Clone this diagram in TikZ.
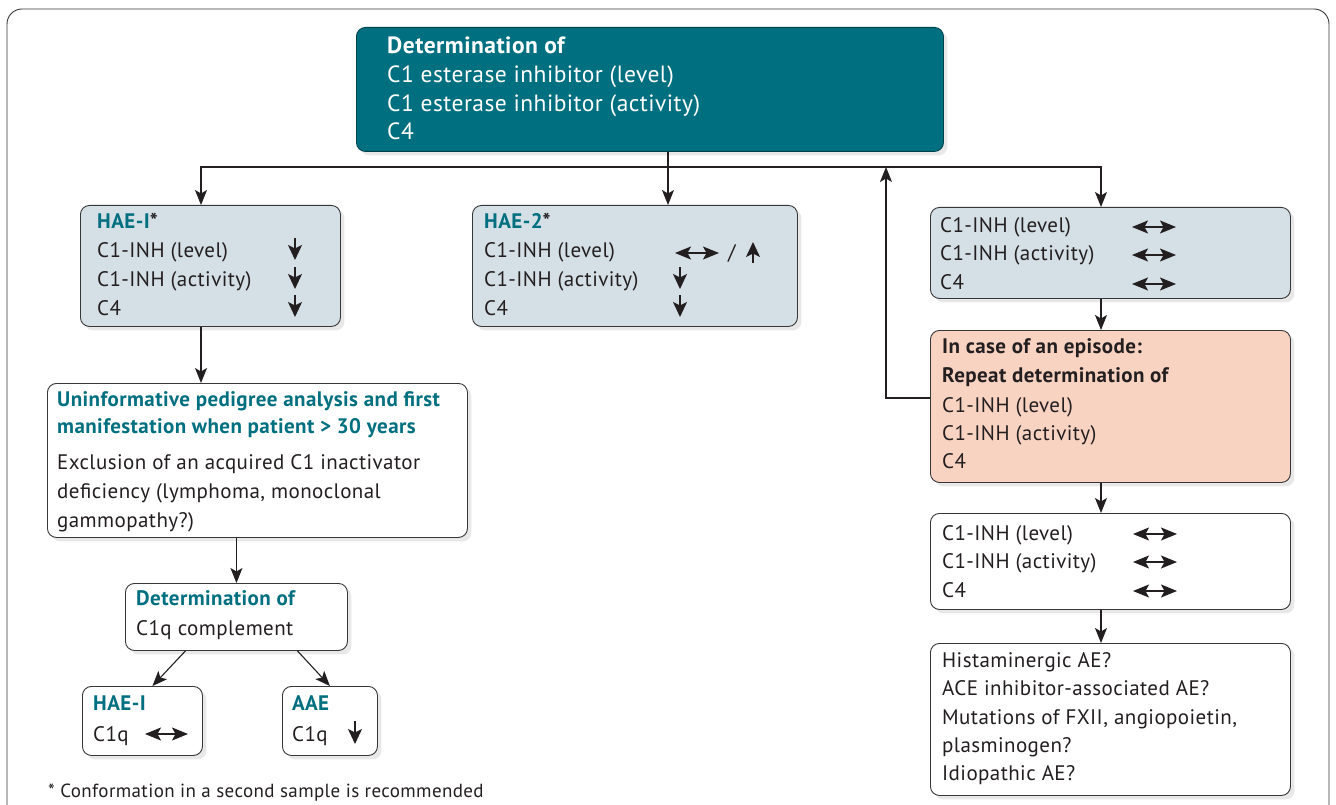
\documentclass[tikz,border=0pt]{standalone}
\usepackage{fontspec}
\setmainfont{PT Sans}[LetterSpace=2.0]
\usetikzlibrary{arrows.meta,shadows}
\definecolor{tealc}{RGB}{0,111,128}
\definecolor{bluegray}{RGB}{213,224,230}
\definecolor{pinkc}{RGB}{249,211,194}
\definecolor{linec}{RGB}{55,55,55}
\definecolor{txtc}{RGB}{35,31,32}
\begin{document}
\begin{tikzpicture}[x=1pt,y=-1pt,
  box/.style={draw=linec, line width=0.9pt, rounded corners=9pt, anchor=north west, inner sep=0pt,
    drop shadow={opacity=0.18, shadow xshift=4pt, shadow yshift=-4pt}},
  txt/.style={anchor=base west, inner sep=0pt, text=txtc, font=\fontsize{21}{25}\selectfont},
  hd/.style={txt, text=tealc, font=\fontsize{21}{25}\selectfont\bfseries},
  bhd/.style={txt, font=\fontsize{21}{25}\selectfont\bfseries},
  big/.style={font=\fontsize{23.5}{28}\selectfont},
  conn/.style={draw=txtc, line width=1.1pt, -{Stealth[length=15pt,width=12pt,inset=3.5pt]}},
  va/.style={draw=txtc, line width=1.4pt, -{Stealth[length=15pt,width=14pt,inset=3.5pt]}},
  dv/.style={draw=txtc, line width=1.4pt, {Stealth[length=16pt,width=13pt,inset=3.5pt]}-{Stealth[length=16pt,width=13pt,inset=3.5pt]}}
]
\useasboundingbox (0,0) rectangle (1336,805);
\begin{scope}
\clip (0,0) rectangle (1336,805);
\draw[draw=linec, line width=0.9pt, rounded corners=15pt] (7,840) -- (7,9) -- (1329,9) -- (1329,840);
\end{scope}

% boxes
\node[box, fill=tealc, draw=tealc!60!black, minimum width=587pt, minimum height=124pt] (top) at (356,27) {};
\node[box, fill=bluegray, minimum width=260pt, minimum height=121pt] (haeI) at (80,205) {};
\node[box, fill=bluegray, minimum width=325pt, minimum height=121pt] (hae2) at (472,205) {};
\node[box, fill=bluegray, minimum width=360pt, minimum height=91pt] (r1) at (930,207) {};
\node[box, fill=pinkc, minimum width=360pt, minimum height=152pt] (pink) at (930,330) {};
\node[box, fill=white, minimum width=360pt, minimum height=96pt] (w2) at (930,513) {};
\node[box, fill=white, minimum width=360pt, minimum height=152pt] (w3) at (930,643) {};
\node[box, fill=white, minimum width=420pt, minimum height=154pt] (unin) at (47,383) {};
\node[box, fill=white, minimum width=222pt, minimum height=67pt] (c1q) at (125,583) {};
\node[box, fill=white, minimum width=120pt, minimum height=69pt] (haes) at (82,686) {};
\node[box, fill=white, minimum width=95pt, minimum height=69pt] (aae) at (282,686) {};

% top text
\node[bhd, big, text=white, font=\fontsize{23.5}{28}\selectfont\bfseries] (t1) at (387,54) {Determination of};
\node[txt, big, text=white] (t2) at (387,83) {C1 esterase inhibitor (level)};
\node[txt, big, text=white] (t3) at (387,112) {C1 esterase inhibitor (activity)};
\node[txt, big, text=white] (t4) at (387,140) {C4};

% HAE-I
\node[hd] (a1) at (97,229) {HAE-I\textcolor{txtc}{*}};
\node[txt] (a2) at (97,258) {C1-INH (level)};
\node[txt] (a3) at (97,287) {C1-INH (activity)};
\node[txt] (a4) at (97,315) {C4};
\draw[va] (295,238) -- (295,260);
\draw[va] (295,267) -- (295,289);
\draw[va] (295,295) -- (295,317);

% HAE-2
\node[hd] (b1) at (484,229) {HAE-2\textcolor{txtc}{*}};
\node[txt] (b2) at (484,258) {C1-INH (level)};
\node[txt] (b3) at (484,287) {C1-INH (activity)};
\node[txt] (b4) at (484,315) {C4};
\draw[dv] (675,253) -- (719,253);
\node[txt] (bsl) at (728,259) {/};
\draw[va] (753,263) -- (753,242);
\draw[va] (680,267) -- (680,289);
\draw[va] (680,295) -- (680,317);

% right top
\node[txt] (c1) at (940,233) {C1-INH (level)};
\node[txt] (c2) at (940,261) {C1-INH (activity)};
\node[txt] (c3) at (940,289) {C4};
\draw[dv] (1132,227) -- (1176,227);
\draw[dv] (1132,255) -- (1176,255);
\draw[dv] (1132,284) -- (1176,284);

% pink
\node[bhd] (p1) at (942,353) {In case of an episode:};
\node[bhd] (p2) at (942,382) {Repeat determination of};
\node[txt] (p3) at (942,412) {C1-INH (level)};
\node[txt] (p4) at (942,440) {C1-INH (activity)};
\node[txt] (p5) at (942,468) {C4};

% white 2
\node[txt] (d1) at (942,540) {C1-INH (level)};
\node[txt] (d2) at (942,568) {C1-INH (activity)};
\node[txt] (d3) at (942,597) {C4};
\draw[dv] (1133,534) -- (1177,534);
\draw[dv] (1133,562) -- (1177,562);
\draw[dv] (1133,591) -- (1177,591);

% white 3
\node[txt] (e1) at (942,667) {Histaminergic AE?};
\node[txt] (e2) at (942,695) {ACE inhibitor-associated AE?};
\node[txt] (e3) at (942,724) {Mutations of FXII, angiopoietin,};
\node[txt] (e4) at (942,752) {plasminogen?};
\node[txt] (e5) at (942,780) {Idiopathic AE?};

% uninformative
\node[hd] (u1) at (57,406) {Uninformative pedigree analysis and first};
\node[hd] (u2) at (57,433) {manifestation when patient > 30 years};
\node[txt] (u3) at (57,469) {Exclusion of an acquired C1 inactivator};
\node[txt] (u4) at (57,498) {deficiency (lymphoma, monoclonal};
\node[txt] (u5) at (57,527) {gammopathy?)};

% C1q
\node[hd] (q1) at (136,605) {Determination of};
\node[txt] (q2) at (136,635) {C1q complement};

\node[hd] (h1) at (93,710) {HAE-I};
\node[txt] (h2) at (93,741) {C1q};
\draw[dv] (145,734) -- (188,734);

\node[hd] (g1) at (292,710) {AAE};
\node[txt] (g2) at (292,741) {C1q};
\draw[va] (355,721) -- (355,744);

\node[txt, font=\fontsize{19}{23}\selectfont] (fn) at (48,797) {* Conformation in a second sample is recommended};

% connectors
\coordinate (jx) at (668,167);
\coordinate (cl) at (201,167);
\coordinate (cr) at (1101,167);
\coordinate (up) at (886,167);
\coordinate (pj) at (886,398);
\draw[conn] (top.south -| jx) -- (hae2.north -| jx);
\draw[conn] (jx) -- (cl) -- (haeI.north -| cl);
\draw[conn] (jx) -- (cr) -- (r1.north -| cr);
\draw[conn] (pink.west |- pj) -| (up);
\draw[conn] (r1.south -| cr) -- (pink.north -| cr);
\draw[conn] (pink.south -| cr) -- (w2.north -| cr);
\draw[conn] (w2.south -| cr) -- (w3.north -| cr);
\draw[conn] (haeI.south -| cl) -- (unin.north -| cl);
\draw[conn] (unin.south -| c1q.north) -- (c1q.north);
\draw[conn] ([xshift=-51pt]c1q.south) -- ([xshift=10pt]haes.north);
\draw[conn] ([xshift=61pt]c1q.south) -- (aae.north);
\end{tikzpicture}
\end{document}
